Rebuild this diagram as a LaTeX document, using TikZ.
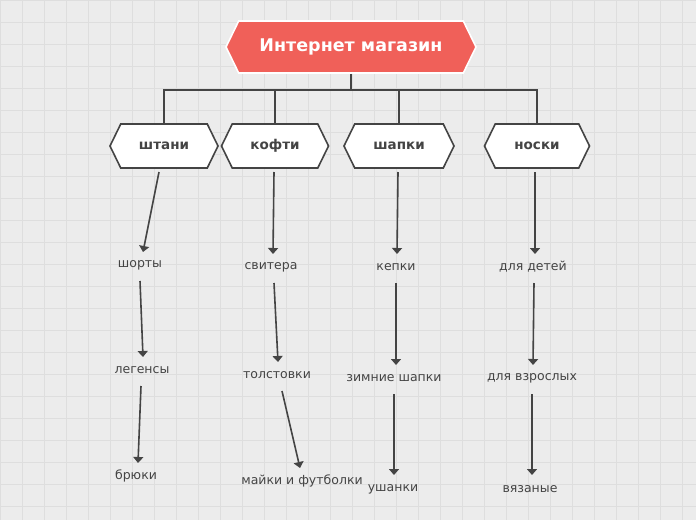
\documentclass[tikz,border=0pt]{standalone}
\usepackage{fontspec}
\setmainfont{DejaVu Sans}
\usetikzlibrary{shapes.symbols,arrows.meta}
\definecolor{bg}{HTML}{ECECEC}
\definecolor{gridc}{HTML}{DEDEDE}
\definecolor{ln}{HTML}{444444}
\definecolor{rootc}{HTML}{F06059}
\tikzset{
 hexa/.style={signal, signal to=east and west, signal pointer angle=128, draw=ln, line width=1.6pt, fill=white, minimum height=44pt, inner sep=0pt, font=\fontsize{13.5}{15}\selectfont\bfseries, text=ln},
 rootbox/.style={hexa, draw=white, fill=rootc, text=white, minimum height=52pt, minimum width=250pt, font=\fontsize{17.5}{20}\selectfont\bfseries},
 leaf/.style={font=\fontsize{12.5}{14}\selectfont, text=ln, inner sep=1pt},
 conn/.style={draw=ln, line width=1.8pt},
 arr/.style={draw=ln, line width=1.6pt, -{Triangle[length=6pt,width=10pt]}}
}
\begin{document}
\begin{tikzpicture}[x=1pt,y=-1pt]
\fill[bg] (0,0) rectangle (696,520);
\useasboundingbox (0,0) rectangle (696,520);
\foreach \i in {0,22,...,696} \draw[gridc,line width=0.6pt] (\i,0)--(\i,520);
\foreach \i in {0,22,...,520} \draw[gridc,line width=0.6pt] (0,\i)--(696,\i);
\node[rootbox] (root) at (351,47) {Интернет магазин};
\node[hexa,minimum width=108pt] (a) at (164,146) {штани};
\node[hexa,minimum width=107pt] (b) at (275,146) {кофти};
\node[hexa,minimum width=110pt] (c) at (399,146) {шапки};
\node[hexa,minimum width=105pt] (d) at (537,146) {носки};
\coordinate (j) at (351,90);
\draw[conn] (root.south) -- (j);
\foreach \n in {a,b,c,d} \draw[conn] (j) -| (\n.north);
\node[leaf] (a1) at (140,265) {шорты};
\node[leaf] (a2) at (142,370) {легенсы};
\node[leaf] (a3) at (136,476) {брюки};
\node[leaf] (b1) at (271,267) {свитера};
\node[leaf] (b2) at (277,375) {толстовки};
\node[leaf] (b3) at (302,481) {майки и футболки};
\node[leaf] (c1) at (396,267) {кепки};
\node[leaf] (c2) at (394,378) {зимние шапки};
\node[leaf] (c3) at (393,489) {ушанки};
\node[leaf] (d1) at (533,267) {для детей};
\node[leaf] (d2) at (532,378) {для взрослых};
\node[leaf] (d3) at (530,489) {вязаные};
\draw[arr] (159,172) -- (143,252);
\draw[arr] (140,281) -- (143,357);
\draw[arr] (141,386) -- (138,463);
\draw[arr] (274,172) -- (273,254);
\draw[arr] (274,283) -- (278,362);
\draw[arr] (282,391) -- (300,468);
\draw[arr] (398,172) -- (397,254);
\draw[arr] (396,283) -- (396,365);
\draw[arr] (394,394) -- (394,475);
\draw[arr] (535,172) -- (535,254);
\draw[arr] (534,283) -- (533,365);
\draw[arr] (532,394) -- (532,475);
\end{tikzpicture}
\end{document}
